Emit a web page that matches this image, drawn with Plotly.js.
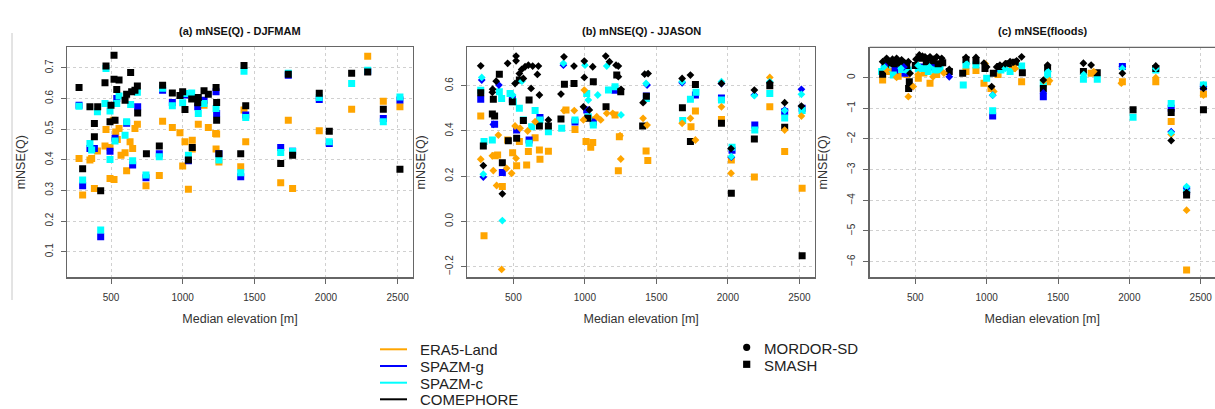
<!DOCTYPE html>
<html>
<head>
<meta charset="utf-8">
<script src="https://cdn.plot.ly/plotly-3.0.1.min.js"></script>
<style>
  html, body { margin: 0; padding: 0; background: #ffffff; }
  #chart { width: 1215px; height: 409px; }
</style>
</head>
<body>
<div id="chart"></div>
<script>
// ---------------- DATA ----------------
const forcings = ['ERA5-Land', 'SPAZM-g', 'SPAZM-c', 'COMEPHORE'];
const models = ['MORDOR-SD', 'SMASH'];
const panelTitles = ['(a) mNSE(Q) - DJFMAM', '(b) mNSE(Q) - JJASON', '(c) mNSE(floods)'];
const xTitle = 'Median elevation [m]';
const yTitle = 'mNSE(Q)';

// panel (a) : SMASH only, [median elevation, mNSE]
const a_smash_era5 = [[277,0.404],[302,0.285],[353,0.399],[365,0.404],[384,0.306],[405,0.429],[465,0.499],[458,0.445],[493,0.44],[493,0.339],[521,0.336],[516,0.529],[533,0.491],[544,0.466],[556,0.502],[570,0.415],[598,0.423],[609,0.364],[633,0.459],[651,0.437],[667,0.502],[684,0.516],[744,0.315],[837,0.349],[860,0.526],[928,0.505],[981,0.488],[1000,0.38],[1016,0.459],[1040,0.304],[1067,0.464],[1067,0.435],[1109,0.516],[1149,0.578],[1179,0.505],[1230,0.486],[1237,0.484],[1233,0.435],[1253,0.393],[1405,0.377],[1428,0.562],[1440,0.459],[1684,0.325],[1737,0.529],[1767,0.306],[1953,0.495],[2179,0.565],[2291,0.738],[2400,0.591],[2516,0.573]];
const a_smash_spazmg = [[277,0.578],[302,0.315],[353,0.437],[384,0.437],[428,0.149],[493,0.428],[528,0.47],[540,0.6],[609,0.519],[651,0.383],[686,0.573],[744,0.341],[837,0.42],[860,0.627],[928,0.587],[1016,0.611],[1040,0.397],[1105,0.573],[1149,0.594],[1233,0.622],[1237,0.551],[1253,0.42],[1405,0.345],[1440,0.546],[1684,0.44],[1737,0.676],[1767,0.428],[1953,0.597],[2023,0.453],[2291,0.689],[2400,0.535],[2516,0.595]];
const a_smash_spazmc = [[277,0.575],[302,0.334],[353,0.453],[365,0.432],[405,0.557],[428,0.171],[465,0.698],[458,0.584],[493,0.559],[493,0.401],[528,0.461],[540,0.584],[556,0.608],[598,0.48],[609,0.524],[637,0.58],[651,0.397],[684,0.62],[744,0.35],[837,0.41],[860,0.633],[928,0.576],[1000,0.586],[1016,0.616],[1040,0.415],[1063,0.618],[1109,0.551],[1149,0.584],[1233,0.567],[1253,0.399],[1405,0.358],[1428,0.689],[1440,0.538],[1684,0.424],[1737,0.682],[1767,0.428],[1953,0.603],[2023,0.459],[2179,0.649],[2291,0.692],[2400,0.524],[2516,0.605]];
const a_smash_comephore = [[277,0.636],[302,0.371],[353,0.573],[384,0.518],[384,0.475],[407,0.573],[428,0.299],[465,0.706],[458,0.651],[500,0.578],[493,0.524],[521,0.741],[521,0.663],[528,0.529],[540,0.629],[556,0.66],[598,0.594],[609,0.614],[637,0.685],[644,0.622],[667,0.627],[684,0.641],[686,0.553],[747,0.42],[837,0.445],[860,0.643],[928,0.618],[981,0.61],[1000,0.622],[1016,0.564],[1040,0.399],[1067,0.44],[1063,0.598],[1105,0.586],[1109,0.603],[1149,0.625],[1179,0.614],[1233,0.636],[1237,0.587],[1237,0.529],[1253,0.42],[1405,0.42],[1428,0.708],[1440,0.576],[1684,0.388],[1737,0.679],[1767,0.415],[1953,0.617],[2023,0.493],[2179,0.682],[2291,0.686],[2400,0.565],[2516,0.369]];

// panel (b)
const b_smash_era5 = [[272,0.466],[295,-0.063],[372,0.29],[390,0.294],[423,0.154],[460,0.36],[495,0.304],[523,0.246],[542,0.353],[593,0.25],[605,0.309],[652,0.37],[682,0.316],[686,0.275],[745,0.31],[868,0.493],[931,0.407],[1008,0.353],[1041,0.328],[1055,0.349],[1059,0.449],[1211,0.471],[1234,0.224],[1241,0.375],[1428,0.312],[1440,0.269],[1742,0.419],[1773,0.488],[1955,0.451],[2024,0.272],[2185,0.196],[2293,0.507],[2397,0.309],[2519,0.147]];
const b_smash_spazmg = [[272,0.54],[369,0.43],[423,0.216],[493,0.54],[523,0.404],[610,0.36],[686,0.46],[931,0.44],[1013,0.493],[1059,0.44],[1211,0.58],[1430,0.555],[1773,0.559],[1955,0.546],[2029,0.315],[2188,0.426],[2397,0.485],[2519,0.5]];
const b_smash_spazmc = [[272,0.58],[295,0.353],[353,0.36],[402,0.574],[418,0.544],[477,0.566],[500,0.529],[542,0.5],[570,0.449],[610,0.346],[628,0.419],[652,0.49],[686,0.449],[745,0.397],[838,0.412],[931,0.449],[1013,0.566],[1024,0.463],[1059,0.426],[1165,0.581],[1211,0.596],[1430,0.544],[1684,0.446],[1738,0.54],[1777,0.571],[1955,0.537],[2029,0.328],[2188,0.404],[2293,0.566],[2397,0.457],[2519,0.49]];
const b_smash_comephore = [[272,0.569],[290,0.334],[353,0.475],[360,0.54],[369,0.466],[402,0.651],[423,0.26],[465,0.357],[493,0.529],[523,0.368],[542,0.625],[570,0.446],[610,0.537],[682,0.422],[745,0.422],[833,0.453],[857,0.607],[924,0.61],[1020,0.456],[1059,0.618],[1148,0.507],[1223,0.647],[1251,0.574],[1404,0.422],[1430,0.554],[1682,0.503],[1738,0.353],[1773,0.606],[1955,0.434],[2024,0.125],[2185,0.365],[2293,0.6],[2397,0.416],[2519,-0.152]];
const b_mordor_era5 = [[272,0.275],[353,0.29],[360,0.225],[383,0.159],[395,0.382],[418,-0.212],[453,0.235],[488,0.213],[512,0.422],[519,0.279],[547,0.412],[600,0.4],[652,0.441],[854,0.49],[926,0.49],[990,0.449],[996,0.581],[1083,0.463],[1111,0.449],[1153,0.478],[1195,0.478],[1246,0.379],[1251,0.276],[1407,0.456],[1435,0.426],[1680,0.434],[1738,0.456],[1773,0.36],[1955,0.507],[2022,0.213],[2293,0.637],[2397,0.404],[2514,0.466]];
const b_mordor_spazmg = [[279,0.625],[290,0.196],[360,0.429],[399,0.603],[850,0.691],[1435,0.603],[1680,0.613],[1955,0.61],[2024,0.284],[2185,0.559],[2397,0.493],[2514,0.584]];
const b_mordor_spazmc = [[279,0.637],[290,0.209],[423,0.004],[495,0.559],[560,0.62],[850,0.699],[1001,0.691],[1024,0.537],[1090,0.559],[1153,0.687],[1253,0.471],[1428,0.61],[1680,0.618],[1955,0.618],[2024,0.287],[2185,0.556],[2293,0.618],[2397,0.49],[2514,0.562]];
const b_mordor_comephore = [[272,0.688],[290,0.247],[353,0.571],[355,0.585],[380,0.62],[423,0.122],[460,0.699],[512,0.61],[519,0.731],[519,0.71],[542,0.654],[558,0.672],[570,0.632],[582,0.684],[605,0.691],[624,0.588],[635,0.687],[668,0.65],[675,0.687],[682,0.559],[745,0.449],[833,0.563],[854,0.728],[924,0.687],[990,0.507],[996,0.709],[996,0.637],[1031,0.493],[1055,0.684],[1146,0.731],[1172,0.706],[1218,0.691],[1234,0.687],[1234,0.64],[1253,0.584],[1407,0.525],[1418,0.651],[1442,0.654],[1680,0.632],[1738,0.647],[1955,0.61],[2022,0.322],[2185,0.581],[2293,0.613],[2397,0.525],[2514,0.51]];

// panel (c)
const c_smash_era5 = [[271,-0.08],[320,0.2],[380,0.05],[440,0.1],[521,-0.02],[560,0.15],[603,-0.18],[650,0.1],[855,0.2],[925,0.23],[981,-0.18],[1030,-0.35],[1080,0.1],[1180,0.3],[1245,-0.13],[1427,-0.13],[1732,0.14],[1951,-0.13],[2185,-0.13],[2293,-1.43],[2401,-6.27],[2519,-0.53]];
const c_smash_spazmg = [[290,0.3],[358,0.25],[428,0.14],[460,-0.3],[540,0.35],[620,0.35],[1042,-1.25],[1090,0.3],[1397,-0.62],[1951,0.36],[2293,-1.0],[2401,-3.72],[2519,-0.3]];
const c_smash_spazmc = [[264,0.2],[300,0.3],[346,0.09],[404,0.27],[450,0.25],[521,0.3],[560,0.3],[591,0.2],[640,0.25],[673,0.27],[836,-0.24],[855,0.41],[925,0.41],[1000,-0.02],[1042,-1.08],[1100,0.25],[1164,0.2],[1245,0.38],[1397,-0.2],[1427,0.09],[1678,-0.05],[1775,-0.05],[2026,-1.29],[2185,0.25],[2293,-0.84],[2401,-3.65],[2519,-0.24]];
const c_smash_comephore = [[271,0.11],[290,0.4],[311,0.49],[350,0.45],[369,0.47],[411,0.47],[440,0.4],[453,-0.35],[458,-0.13],[500,0.4],[533,0.63],[577,0.52],[624,0.55],[660,0.45],[692,0.49],[738,0.2],[832,0.14],[855,0.58],[925,0.55],[988,0.3],[1047,0.14],[1093,0.36],[1152,0.45],[1200,0.5],[1250,0.16],[1397,-0.35],[1427,0.3],[1678,0.2],[1775,0.16],[2026,-1.05],[2185,0.3],[2293,-1.14],[2401,-3.83],[2519,-1.05]];
const c_mordor_era5 = [[300,0.25],[369,0.01],[451,-0.62],[486,-0.29],[520,0.1],[624,0.03],[700,0.15],[990,0.45],[1050,-0.45],[1200,0.3],[1400,-0.1],[1440,-0.1],[1750,0.2],[1944,-0.18],[2185,0.0],[2293,-1.85],[2401,-4.32],[2519,-0.57]];
const c_mordor_spazmg = [[285,0.4],[420,0.35],[738,0.03],[1042,-0.57],[1397,-0.5],[1951,0.36],[2293,-1.76],[2401,-3.6],[2519,-0.3]];
const c_mordor_spazmc = [[280,0.35],[400,0.3],[520,0.4],[600,0.35],[860,0.45],[1042,-0.57],[1130,0.3],[1430,0.2],[1680,0.1],[1951,0.3],[2185,0.3],[2293,-1.8],[2401,-3.55],[2519,-0.24]];
const c_mordor_comephore = [[271,0.52],[299,0.63],[340,0.6],[369,0.63],[404,0.58],[451,0.52],[463,0.14],[505,0.6],[528,0.74],[550,0.7],[568,0.68],[590,0.62],[603,0.68],[630,0.6],[650,0.68],[685,0.63],[738,0.27],[855,0.66],[925,0.66],[981,0.47],[1000,0.35],[1035,-0.29],[1070,0.35],[1093,0.41],[1130,0.45],[1164,0.52],[1210,0.55],[1245,0.68],[1397,-0.08],[1427,0.41],[1678,0.47],[1732,0.41],[1951,0.14],[2185,0.38],[2293,-2.05],[2401,-3.75],[2519,-0.35]];

// ---------------- STYLE ----------------
const forcingColors = ['#FFA500', '#0000FF', '#00FFFF', '#000000'];
const FONT = 'Liberation Sans, Arial, Helvetica, sans-serif';
const W = 1215, H = 409;
const px = v => v / W;
const py = v => 1 - v / H;

const panels = [
  { smash: [a_smash_era5, a_smash_spazmg, a_smash_spazmc, a_smash_comephore], mordor: [] },
  { smash: [b_smash_era5, b_smash_spazmg, b_smash_spazmc, b_smash_comephore],
    mordor: [b_mordor_era5, b_mordor_spazmg, b_mordor_spazmc, b_mordor_comephore] },
  { smash: [c_smash_era5, c_smash_spazmg, c_smash_spazmc, c_smash_comephore],
    mordor: [c_mordor_era5, c_mordor_spazmg, c_mordor_spazmc, c_mordor_comephore] }
];

const traces = [];
panels.forEach((p, i) => {
  const ax = i === 0 ? '' : String(i + 1);
  p.smash.forEach((s, k) => {
    traces.push({ type: 'scatter', mode: 'markers', xaxis: 'x' + ax, yaxis: 'y' + ax,
      x: s.map(d => d[0]), y: s.map(d => d[1]), name: forcings[k] + ' ' + models[1],
      showlegend: false, hoverinfo: 'x+y', cliponaxis: true,
      marker: { symbol: 'square', size: 7, color: forcingColors[k], line: { width: 0 } } });
  });
  p.mordor.forEach((s, k) => {
    traces.push({ type: 'scatter', mode: 'markers', xaxis: 'x' + ax, yaxis: 'y' + ax,
      x: s.map(d => d[0]), y: s.map(d => d[1]), name: forcings[k] + ' ' + models[0],
      showlegend: false, hoverinfo: 'x+y', cliponaxis: true,
      marker: { symbol: 'diamond', size: 6, color: forcingColors[k], line: { width: 0 } } });
  });
});

const yDomain = [py(277.3), py(47.3)];
function xa(domain, range, mirror) {
  return { domain: domain, range: range, tickmode: 'linear', tick0: 0, dtick: 500,
    showgrid: true, gridcolor: '#d0d0d0', griddash: 'dot', gridwidth: 1, zeroline: false,
    showline: true, linecolor: '#666', linewidth: 1.3, mirror: mirror,
    ticks: 'outside', ticklen: 5, tickcolor: '#666', tickwidth: 1,
    ticklabelstandoff: 5,
    tickfont: { family: FONT, size: 10, color: '#333' },
    title: { text: xTitle, font: { family: FONT, size: 12.5, color: '#333' }, standoff: 12 } };
}
function ya(range, dtick, fmt, mirror) {
  return { domain: yDomain, range: range, tickmode: 'linear', tick0: 0, dtick: dtick, tickformat: fmt,
    showgrid: true, gridcolor: '#d0d0d0', griddash: 'dot', gridwidth: 1, zeroline: false,
    showline: true, linecolor: '#666', linewidth: 1.3, mirror: mirror,
    ticks: 'outside', ticklen: 5, tickcolor: '#666', tickwidth: 1, tickangle: -90,
    ticklabelstandoff: 4,
    tickfont: { family: FONT, size: 10, color: '#333' },
    title: { text: yTitle, font: { family: FONT, size: 12.5, color: '#333' }, standoff: 15 } };
}

const xDomA = [px(67.3), px(412.7)], xDomB = [px(467.3), px(815)], xDomC = [px(869.5), 1];

const layout = {
  width: W, height: H, margin: { l: 0, r: 0, t: 0, b: 0 },
  paper_bgcolor: '#ffffff', plot_bgcolor: '#ffffff', showlegend: false,
  font: { family: FONT, color: '#333' },
  xaxis: Object.assign(xa(xDomA, [195, 2605], true), { anchor: 'y' }),
  yaxis: Object.assign(ya([0.0165, 0.767], 0.1, '.1f', true), { anchor: 'x' }),
  xaxis2: Object.assign(xa(xDomB, [178, 2609], true), { anchor: 'y2' }),
  yaxis2: Object.assign(ya([-0.247, 0.77], 0.2, '.1f', true), { anchor: 'x2' }),
  xaxis3: Object.assign(xa(xDomC, [179, 2600], false), { anchor: 'y3' }),
  yaxis3: Object.assign(ya([-6.51, 0.99], 1, 'd', false), { anchor: 'x3' }),
  annotations: [], shapes: []
};

// panel titles
const titleX = [240, 641, 1043];
panelTitles.forEach((t, i) => {
  layout.annotations.push({ xref: 'paper', yref: 'paper', x: px(titleX[i]), y: py(31),
    xanchor: 'center', yanchor: 'middle', showarrow: false,
    text: '<b>' + t + '</b>', font: { family: FONT, size: 11, color: '#111' } });
});

// top border of panel (c) (its right side is cut off)
layout.shapes.push({ type: 'line', xref: 'paper', yref: 'paper', x0: px(869.5), x1: 1,
  y0: py(47.3), y1: py(47.3), line: { color: '#666', width: 1.3 } });

// grey frame edge on the left
layout.shapes.push({ type: 'line', xref: 'paper', yref: 'paper', x0: px(12), x1: px(12),
  y0: py(33), y1: py(300), line: { color: '#c8c8c8', width: 1 } });

// legend: forcings (lines)
const legRowY = [349.3, 366, 382.7, 399.3];
forcings.forEach((f, k) => {
  layout.shapes.push({ type: 'line', xref: 'paper', yref: 'paper', x0: px(380), x1: px(407),
    y0: py(legRowY[k]), y1: py(legRowY[k]), line: { color: forcingColors[k], width: 2 } });
  layout.annotations.push({ xref: 'paper', yref: 'paper', x: px(418), y: py(legRowY[k] + 0.5),
    xanchor: 'left', yanchor: 'middle', showarrow: false, text: f,
    font: { family: FONT, size: 15, color: '#222' } });
});
// legend: models (symbols)
const modRowY = [347.3, 364.3];
const mx = 746.7, ms = 3.6;
layout.shapes.push({ type: 'circle', xref: 'paper', yref: 'paper', x0: px(mx - ms), x1: px(mx + ms),
  y0: py(modRowY[0] + ms), y1: py(modRowY[0] - ms), fillcolor: '#000', line: { width: 0 } });
layout.shapes.push({ type: 'rect', xref: 'paper', yref: 'paper', x0: px(mx - ms), x1: px(mx + ms),
  y0: py(modRowY[1] + ms), y1: py(modRowY[1] - ms), fillcolor: '#000', line: { width: 0 } });
models.forEach((m, k) => {
  layout.annotations.push({ xref: 'paper', yref: 'paper', x: px(761.5), y: py(modRowY[k] + 1),
    xanchor: 'left', yanchor: 'middle', showarrow: false, text: m,
    font: { family: FONT, size: 15, color: '#222' } });
});

Plotly.newPlot('chart', traces, layout, { staticPlot: true, displayModeBar: false });
</script>
</body>
</html>
